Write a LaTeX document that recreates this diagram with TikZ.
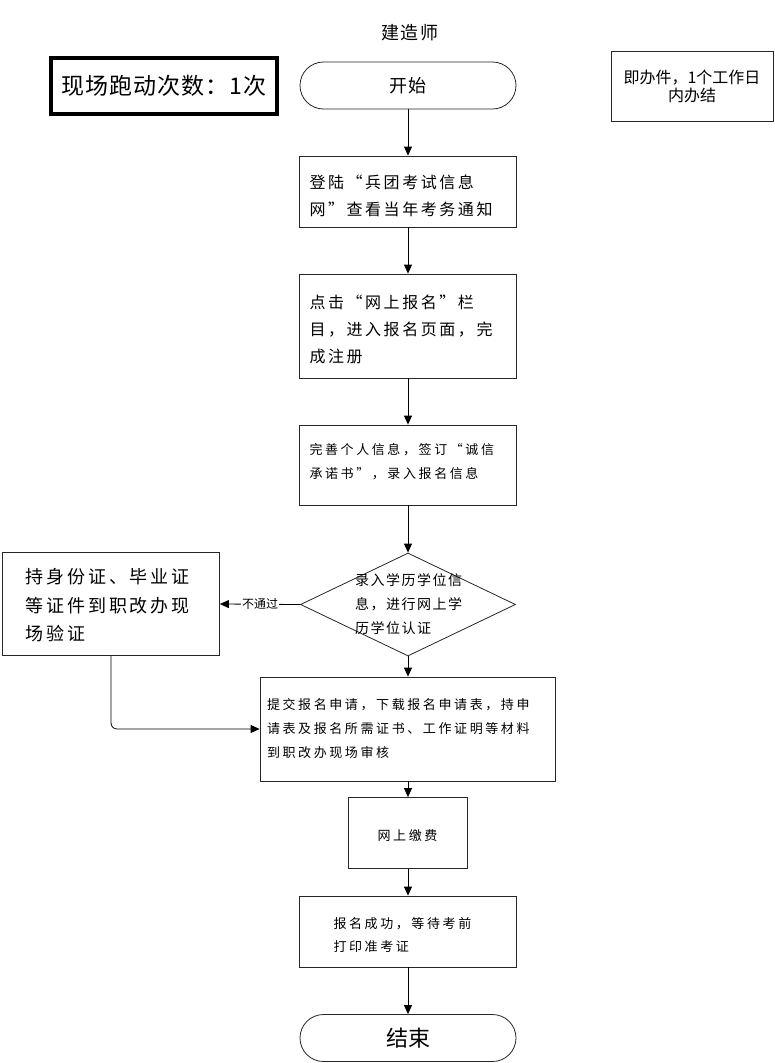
\documentclass[tikz,border=0pt]{standalone}
\usepackage{fontspec}
\setmainfont{Noto Sans CJK SC}
\newfontfamily\cjk{Noto Sans CJK SC}
\newfontfamily\cjkS{Noto Sans CJK SC}[LetterSpace=4]
\newfontfamily\cjkA{Noto Sans CJK SC}[LetterSpace=11]
\newfontfamily\cjkB{Noto Sans CJK SC}[LetterSpace=16]
\newfontfamily\cjkC{Noto Sans CJK SC}[LetterSpace=20]
\usetikzlibrary{shapes.geometric,shapes.misc,arrows.meta}
\tikzset{
  box/.style={draw=black!85, line width=0.8pt, rectangle, align=left, inner ysep=0pt},
  term/.style={draw=black!85, line width=0.8pt, rounded rectangle, inner sep=0pt,
    minimum width=216pt, minimum height=47pt},
  arr/.style={draw=black, line width=0.8pt, -{Triangle[length=9pt,width=8pt]}},
}
\begin{document}
\begin{tikzpicture}[x=1pt,y=-1pt]
\useasboundingbox (0,0) rectangle (774,1063);
\node[font=\cjkA\fontsize{18}{20}\selectfont] (title) at (410,33) {建造师};
\node[draw=black, line width=4pt, minimum width=226pt, minimum height=56pt, inner sep=0pt,
  font=\cjkS\fontsize{23}{25}\selectfont] (runs) at (164,86) {现场跑动次数：1次};
\node[box, align=center, text width=150pt, inner xsep=6pt, minimum height=70pt,
  font=\cjk\fontsize{16}{18}\selectfont] (note) at (692,86) {即办件，1个工作日\\内办结};
\node[term, font=\cjkA\fontsize{18}{20}\selectfont] (start) at (408,85.5) {开始};
\node[box, inner xsep=10pt, text width=197pt, minimum height=71pt,
  font=\cjkB\fontsize{16}{27}\selectfont] (b1) at (408,191.5) {\rule{0pt}{23pt}登陆“兵团考试信息\\网”查看当年考务通知};
\node[box, inner xsep=10pt, text width=197pt, minimum height=104pt,
  font=\cjkB\fontsize{16}{27}\selectfont] (b2) at (408,326) {\rule{0pt}{20pt}点击“网上报名”栏\\目，进入报名页面，完\\成注册};
\node[box, inner xsep=10pt, text width=197pt, minimum height=80pt,
  font=\cjkC\fontsize{13}{24}\selectfont] (b3) at (408,465) {完善个人信息，签订“诚信\\承诺书”，录入报名信息\rule[-9pt]{0pt}{1pt}};
\node[draw=black!85, line width=0.8pt, diamond, minimum width=215pt, minimum height=103pt, inner sep=0pt,
  font=\cjkA\fontsize{14}{24}\selectfont] (dia) at (408,604.5)
  {\smash{\makebox[0pt]{\hspace*{4pt}\raisebox{-3pt}{\parbox{110pt}{录入学历学位信\\息，进行网上学\\历学位认证}}}}};
\node[box, inner xsep=23pt, text width=171pt, minimum height=103pt,
  font=\cjkB\fontsize{18}{28.5}\selectfont] (left) at (111,604) {\rule{0pt}{18pt}持身份证、毕业证\\等证件到职改办现\\场验证};
\node[box, inner xsep=7pt, text width=281pt, minimum height=104pt,
  font=\cjkC\fontsize{13}{24}\selectfont] (b4) at (407.5,729) {提交报名申请，下载报名申请表，持申\\请表及报名所需证书、工作证明等材料\\到职改办现场审核};
\node[box, align=center, inner xsep=4pt, text width=111pt, minimum height=71pt,
  font=\cjkC\fontsize{13}{24}\selectfont] (b5) at (407.5,833) {\rule{0pt}{16.5pt}网上缴费};
\node[box, inner xsep=34pt, text width=149pt, minimum height=71pt,
  font=\cjkC\fontsize{13}{23}\selectfont] (b6) at (408,931.5) {\rule{0pt}{17.5pt}报名成功，等待考前\\打印准考证};
\node[term, font=\cjk\fontsize{22}{24}\selectfont] (end) at (408,1038) {结束};
\draw[arr] (start.south) -- (b1.north);
\draw[arr] (b1.south) -- (b2.north);
\draw[arr] (b2.south) -- (b3.north);
\draw[arr] (b3.south) -- (dia.north);
\draw[arr] (dia.south) -- (dia.south |- b4.north);
\draw[arr] (dia.south |- b4.south) -- (dia.south |- b5.north);
\draw[arr] (dia.south |- b5.south) -- (b6.north);
\draw[arr] (b6.south) -- (end.north);
\draw[arr] (dia.west) -- node[fill=white, inner sep=1pt, font=\cjk\fontsize{12}{14}\selectfont] (fail) {不通过} (left.east);
\draw[arr, rounded corners=6pt] (left.south) |- (b4.west);
\end{tikzpicture}
\end{document}
